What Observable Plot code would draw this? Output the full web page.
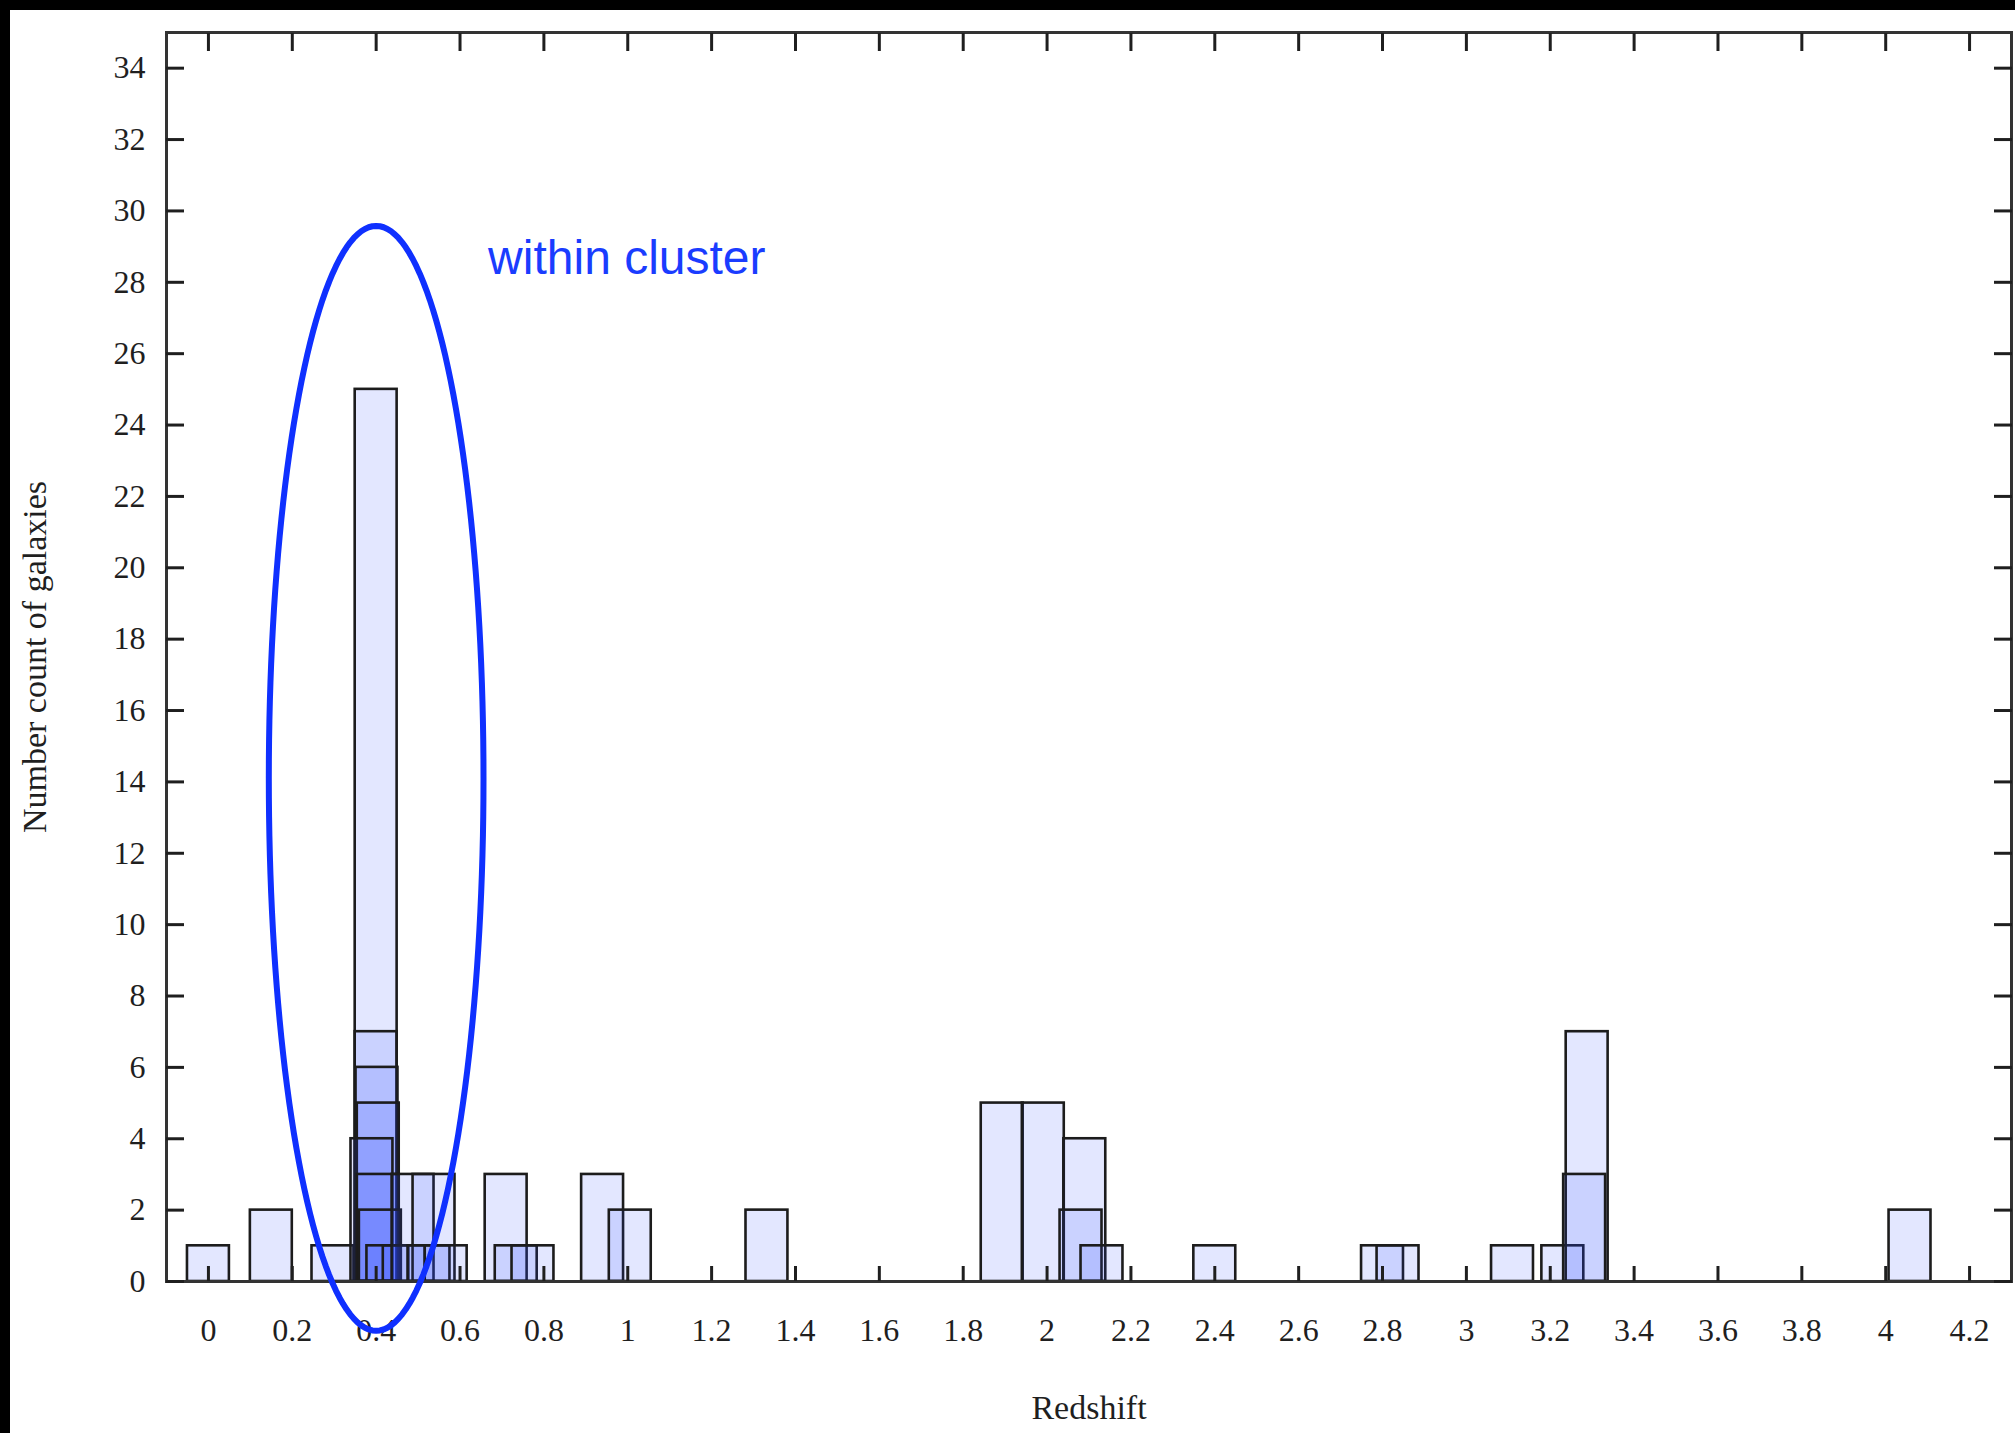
<!DOCTYPE html>
<html><head><meta charset="utf-8">
<script src="https://cdn.jsdelivr.net/npm/d3@7"></script>
<script src="https://cdn.jsdelivr.net/npm/@observablehq/plot@0.6"></script>
<style>
html,body{margin:0;padding:0;background:#000;width:2015px;height:1433px;overflow:hidden;}
#chart{position:absolute;left:10px;top:10px;width:2005px;height:1423px;background:#fff;}
</style></head><body><div id="chart"></div>
<script>
// Overlaid redshift histograms (bin width 0.1): left edge of each bin and its count
const binWidth = 0.1;
const binLeft = [-0.05, 0.10, 0.247, 0.35, 0.35, 0.352, 0.355, 0.34, 0.355, 0.36, 0.378, 0.417, 0.438, 0.488, 0.476, 0.517,
                 0.66, 0.684, 0.724, 0.89, 0.956, 1.282, 1.843, 1.941, 2.04, 2.031, 2.081, 2.35, 2.75, 2.787, 3.06, 3.18, 3.238, 3.232, 4.008];
const counts  = [1, 2, 1, 25, 7, 6, 5, 4, 3, 2, 1, 1, 3, 3, 1, 1,
                 3, 1, 1, 3, 2, 2, 5, 5, 4, 2, 1, 1, 1, 1, 1, 1, 7, 3, 2];
const xTicks = [0, 0.2, 0.4, 0.6, 0.8, 1, 1.2, 1.4, 1.6, 1.8, 2, 2.2, 2.4, 2.6, 2.8, 3, 3.2, 3.4, 3.6, 3.8, 4, 4.2];
const yTicks = [0, 2, 4, 6, 8, 10, 12, 14, 16, 18, 20, 22, 24, 26, 28, 30, 32, 34];
const xLabel = "Redshift";
const yLabel = "Number count of galaxies";
const noteText = "within cluster";
// annotation ellipse around the cluster peak (data units)
const ellCenter = [0.4, 14.1];
const ellRadii = [0.256, 15.48];
const notePos = [0.667, 28.67];

const bars = binLeft.map((l, i) => ({x1: l, x2: l + binWidth, count: counts[i]}));
const ellPts = d3.range(0, 361, 2).map(a => ({
  x: ellCenter[0] + ellRadii[0] * Math.cos(a * Math.PI / 180),
  y: ellCenter[1] + ellRadii[1] * Math.sin(a * Math.PI / 180)
}));
const fmt = d => String(+d.toFixed(1));
const blank = () => "";

const chart = Plot.plot({
  width: 2005, height: 1423,
  marginLeft: 156, marginRight: 4, marginTop: 22, marginBottom: 152,
  x: {domain: [-0.1, 4.3]},
  y: {domain: [0, 35]},
  style: {fontFamily: "'Liberation Serif', 'Times New Roman', serif", fontSize: "32px", color: "#1f1f1f", background: "#fff"},
  marks: [
    Plot.rect(bars, {x1: "x1", x2: "x2", y1: 0, y2: "count", fill: "#2545ff", fillOpacity: 0.13, stroke: "#1c1c1c", strokeWidth: 2.6}),
    Plot.frame({stroke: "#333", strokeWidth: 3}),
    Plot.axisX(xTicks, {anchor: "bottom", tickSize: -15, tickFormat: blank, strokeWidth: 3, label: null}),
    Plot.axisX(xTicks, {anchor: "top", tickSize: -18, tickFormat: blank, strokeWidth: 3, label: null}),
    Plot.axisY(yTicks, {anchor: "left", tickSize: -18, tickFormat: blank, strokeWidth: 3, label: null}),
    Plot.axisY(yTicks, {anchor: "right", tickSize: -18, tickFormat: blank, strokeWidth: 3, label: null}),
    Plot.axisX(xTicks, {anchor: "bottom", tickSize: 0, tickPadding: 37, tickFormat: fmt, label: null}),
    Plot.axisY(yTicks, {anchor: "left", tickSize: 0, tickPadding: 21, tickFormat: fmt, label: null}),
    Plot.text([yLabel], {frameAnchor: "left", rotate: -90, dx: -131, fontSize: 34, textAnchor: "middle", fill: "#1f1f1f"}),
    Plot.text([xLabel], {frameAnchor: "bottom", dy: 137, fontSize: 34, textAnchor: "middle", fill: "#1f1f1f"}),
    Plot.line(ellPts, {x: "x", y: "y", stroke: "#0f30ff", strokeWidth: 6}),
    Plot.text([noteText], {x: () => notePos[0], y: () => notePos[1], textAnchor: "start", fill: "#1a3cff", fontSize: 48, fontFamily: "'Liberation Sans', Arial, sans-serif"})
  ]
});
document.getElementById("chart").appendChild(chart);
</script></body></html>
